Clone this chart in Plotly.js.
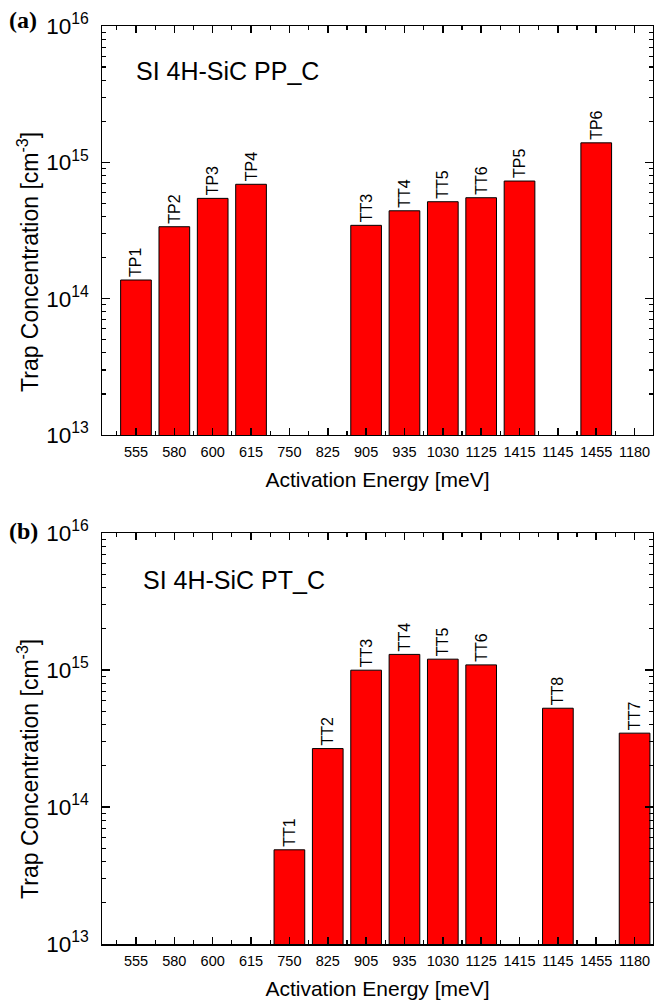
<!DOCTYPE html>
<html>
<head>
<meta charset="utf-8">
<script src="https://cdn.plot.ly/plotly-3.0.1.min.js"></script>
<style>
html,body{margin:0;padding:0;background:#fff;}
#chart{width:654px;height:1003px;}
</style>
</head>
<body>
<div id="chart"></div>
<script>
// Shared categories (activation energy, meV) in axis order
const categories = ["555","580","600","615","750","825","905","935","1030","1125","1415","1145","1455","1180"];

// Panel (a): SI 4H-SiC PP_C
const aEnergies = ["555","580","600","615","905","935","1030","1125","1415","1455"];
const aLabels   = ["TP1","TP2","TP3","TP4","TT3","TT4","TT5","TT6","TP5","TP6"];
const aValues   = [1.37e14, 3.37e14, 5.44e14, 6.9e14, 3.45e14, 4.41e14, 5.14e14, 5.5e14, 7.29e14, 1.39e15];

// Panel (b): SI 4H-SiC PT_C
const bEnergies = ["750","825","905","935","1030","1125","1145","1180"];
const bLabels   = ["TT1","TT2","TT3","TT4","TT5","TT6","TT8","TT7"];
const bValues   = [4.87e13, 2.67e14, 9.97e14, 1.30e15, 1.20e15, 1.09e15, 5.26e14, 3.46e14];

const sampleNames = ["SI 4H-SiC PP_C", "SI 4H-SiC PT_C"];
const panelTags = ["(a)", "(b)"];
const xTitle = "Activation Energy [meV]";
const yTitle = "Trap Concentration [cm<sup>-3</sup>]";

const FONT = "Liberation Sans, Arial, sans-serif";
const SERIF = "Liberation Serif, Times New Roman, serif";
const idx = e => categories.indexOf(e);
const catIdx = categories.map((c, i) => i);

function barTrace(energies, values, labels, xa, ya) {
  return {
    type: "bar",
    x: energies.map(idx),
    y: values,
    text: labels,
    textposition: "outside",
    textangle: -90,
    cliponaxis: false,
    textfont: {family: FONT, size: 16, color: "#000"},
    width: 0.8,
    marker: {color: "#ff0000", line: {color: "#000", width: 1}},
    xaxis: xa, yaxis: ya,
    hoverinfo: "x+y"
  };
}

function xAxis(anchor) {
  return {
    anchor: anchor,
    type: "linear",
    range: [-0.886, 13.48],
    tickmode: "array",
    tickvals: catIdx,
    ticktext: categories,
    ticks: "inside",
    ticklen: 7,
    tickwidth: 1.5,
    tickcolor: "#000",
    minor: {ticks: "inside", ticklen: 4, tickwidth: 1.2, tickcolor: "#000", dtick: 0.5, tick0: 0},
    showline: true, linecolor: "#000", linewidth: 1.5,
    mirror: "allticks",
    showgrid: false, zeroline: false,
    ticklabelstandoff: 3,
    tickfont: {family: FONT, size: 14.5, color: "#000"},
    title: {text: xTitle, font: {family: FONT, size: 21, color: "#000"}, standoff: 13},
    automargin: false
  };
}

function yAxis(anchor, domain) {
  return {
    anchor: anchor,
    domain: domain,
    type: "log",
    range: [13, 16],
    dtick: 1,
    tick0: 0,
    exponentformat: "power",
    ticks: "inside",
    ticklen: 8,
    tickwidth: 1.5,
    tickcolor: "#000",
    minor: {ticks: "inside", ticklen: 4, tickwidth: 1.2, tickcolor: "#000", dtick: "D1"},
    showline: true, linecolor: "#000", linewidth: 1.5,
    mirror: "allticks",
    showgrid: false, zeroline: false,
    ticklabelstandoff: 8,
    tickfont: {family: FONT, size: 18, color: "#000"},
    automargin: false
  };
}

const data = [
  barTrace(aEnergies, aValues, aLabels, "x", "y"),
  barTrace(bEnergies, bValues, bLabels, "x2", "y2")
];

const layout = {
  width: 654, height: 1003,
  margin: {l: 102, r: 1, t: 26, b: 59},
  paper_bgcolor: "#fff", plot_bgcolor: "#fff",
  showlegend: false,
  xaxis: xAxis("y"),
  yaxis: yAxis("x", [0.5545, 1]),
  xaxis2: xAxis("y2"),
  yaxis2: yAxis("x2", [0, 0.4477]),
  annotations: [
    {xref: "x domain", yref: "y domain", x: 0.058, y: 0.89, xanchor: "left", yanchor: "middle",
     text: sampleNames[0], showarrow: false, font: {family: FONT, size: 25, color: "#000"}},
    {xref: "x2 domain", yref: "y2 domain", x: 0.07, y: 0.885, xanchor: "left", yanchor: "middle",
     text: sampleNames[1], showarrow: false, font: {family: FONT, size: 25, color: "#000"}},
    {xref: "paper", yref: "y domain", x: -0.1343, y: 0.423, xanchor: "center", yanchor: "middle", textangle: -90,
     text: yTitle, showarrow: false, font: {family: FONT, size: 23, color: "#000"}},
    {xref: "paper", yref: "y2 domain", x: -0.1343, y: 0.426, xanchor: "center", yanchor: "middle", textangle: -90,
     text: yTitle, showarrow: false, font: {family: FONT, size: 23, color: "#000"}},
    {xref: "paper", yref: "paper", x: -0.172, y: 1.006, xanchor: "left", yanchor: "middle",
     text: "<b>" + panelTags[0] + "</b>", showarrow: false, font: {family: SERIF, size: 24, color: "#000"}},
    {xref: "paper", yref: "paper", x: -0.172, y: 0.4497, xanchor: "left", yanchor: "middle",
     text: "<b>" + panelTags[1] + "</b>", showarrow: false, font: {family: SERIF, size: 24, color: "#000"}}
  ]
};

Plotly.newPlot("chart", data, layout, {displayModeBar: false, staticPlot: true});
</script>
</body>
</html>
